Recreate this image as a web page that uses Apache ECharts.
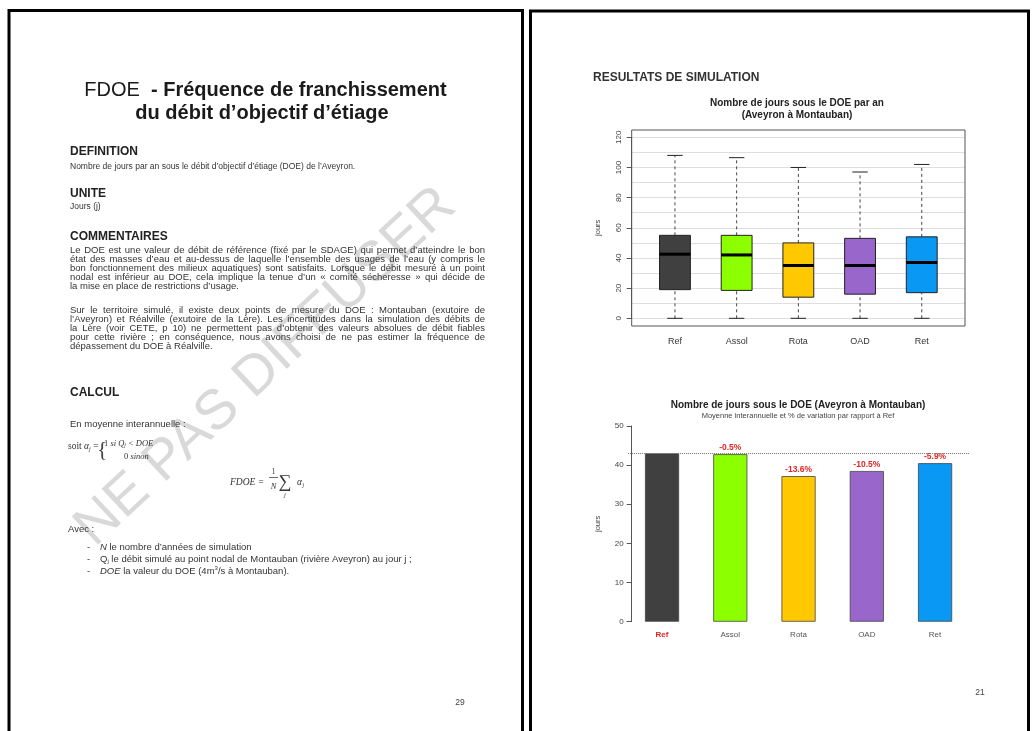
<!DOCTYPE html>
<html><head><meta charset="utf-8">
<script src="https://cdn.jsdelivr.net/npm/echarts@6/dist/echarts.min.js"></script>
<style>html,body{margin:0;padding:0;background:#fff}#c{width:1034px;height:731px}</style>
</head><body><div id="c"></div>
<script>
// ---------- data ----------
const categories = ['Ref', 'Assol', 'Rota', 'OAD', 'Ret'];
const boxMin    = [0, 0, 0, 0, 0];
const boxQ1     = [19, 18.5, 14, 16, 17];
const boxMedian = [42.5, 42, 35, 35, 37];
const boxQ3     = [55, 55, 50, 53, 54];
const boxMax    = [108, 106.5, 100, 97, 102];
const meanDays  = [43.0, 42.8, 37.2, 38.5, 40.5];
const variationLabels = ['', '-0.5%', '-13.6%', '-10.5%', '-5.9%'];
const seriesColors = ['#404040', '#8cff00', '#ffc800', '#9966cc', '#0a98f5'];

const para1 = [
  'Le DOE est une valeur de débit de référence (fixé par le SDAGE) qui permet d’atteindre le bon',
  'état des masses d’eau et au-dessus de laquelle l’ensemble des usages de l’eau (y compris le',
  'bon fonctionnement des milieux aquatiques) sont satisfaits. Lorsque le débit mesuré à un point',
  'nodal est inférieur au DOE, cela implique la tenue d’un « comité sécheresse » qui décide de',
  'la mise en place de restrictions d’usage.'
];
const para2 = [
  'Sur le territoire simulé, il existe deux points de mesure du DOE : Montauban (exutoire de',
  'l’Aveyron) et Réalville (exutoire de la Lère). Les incertitudes dans la simulation des débits de',
  'la Lère (voir CETE, p 10) ne permettent pas d’obtenir des valeurs absolues de débit fiables',
  'pour cette rivière ; en conséquence, nous avons choisi de ne pas estimer la fréquence de',
  'dépassement du DOE à Réalville.'
];

// ---------- helpers ----------
const SANS = "'Liberation Sans', Arial, sans-serif";
const SERIF = "'Liberation Serif', 'DejaVu Serif', serif";
const ctx = document.createElement('canvas').getContext('2d');
function fontStr(s){ return (s.fontStyle||'normal')+' '+(s.fontWeight||'normal')+' '+s.fontSize+'px '+(s.fontFamily||SANS); }
function tw(t, s){ ctx.font = fontStr(s); return ctx.measureText(t).width; }
function T(text, x, y, s, extra){
  return Object.assign({type:'text', x:x, y:y, z:10, silent:true,
    style:Object.assign({text:text, fill:'#2b2b2b', fontFamily:SANS, verticalAlign:'middle', align:'left'}, s)}, extra||{});
}
function justify(lines, x, y0, dy, width, s){
  const out = [];
  lines.forEach(function(ln, li){
    const y = y0 + li*dy;
    if (li === lines.length-1){ out.push(T(ln, x, y, s)); return; }
    const words = ln.split(' ');
    const ws = words.map(function(w){ return tw(w, s); });
    const sum = ws.reduce(function(a,b){return a+b;}, 0);
    const gap = (width - sum)/(words.length-1);
    let cx = x;
    words.forEach(function(w, i){ out.push(T(w, cx, y, s)); cx += ws[i] + gap; });
  });
  return out;
}
function seq(x, y, parts){
  const out = []; let cx = x;
  parts.forEach(function(p){
    const s = Object.assign({fontSize:9}, p.s);
    out.push(T(p.t, cx, y + (p.dy||0), s));
    cx += tw(p.t, s);
  });
  return out;
}

// ---------- graphic (document pages) ----------
const G = [];
// watermark
G.push({type:'text', x:266, y:367, rotation:43*Math.PI/180, z:1, silent:true,
  style:{text:'NE PAS DIFFUSER', fontSize:56, fontFamily:SANS, fill:'#d9d9d9', align:'center', verticalAlign:'middle'}});
// page frames
G.push({type:'polyline', z:20, silent:true, shape:{points:[[9,740],[9,10.5],[522.5,10.5],[522.5,740]]}, style:{stroke:'#000', lineWidth:3, fill:null}});
G.push({type:'polyline', z:20, silent:true, shape:{points:[[530.5,740],[530.5,11],[1028.5,11],[1028.5,740]]}, style:{stroke:'#000', lineWidth:3, fill:null}});

// left page title
G.push(T('{a|FDOE}{b|  - Fréquence de franchissement}', 265.5, 90, {align:'center', fill:'#1a1a1a',
  rich:{a:{fontSize:20, fontFamily:SANS, fill:'#1a1a1a'}, b:{fontSize:20, fontWeight:'bold', fontFamily:SANS, fill:'#1a1a1a'}}}));
G.push(T('du débit d’objectif d’étiage', 262, 113, {align:'center', fontSize:20, fontWeight:'bold', fill:'#1a1a1a'}));

const H = {fontSize:12, fontWeight:'bold', fill:'#222'};
G.push(T('DEFINITION', 70, 152, H));
G.push(T('Nombre de jours par an sous le débit d’objectif d’étiage (DOE) de l’Aveyron.', 70, 166.7, {fontSize:8.5, fill:'#333'}));
G.push(T('UNITE', 70, 193.3, H));
G.push(T('Jours (j)', 70, 207, {fontSize:8.5, fill:'#333'}));
G.push(T('COMMENTAIRES', 70, 237, H));
const P = {fontSize:9.5, fill:'#333'};
justify(para1, 70, 250, 9.2, 415, P).forEach(function(e){G.push(e);});
justify(para2, 70, 310, 9.2, 415, P).forEach(function(e){G.push(e);});
G.push(T('CALCUL', 70, 392.3, H));
G.push(T('En moyenne interannuelle :', 70, 424, P));

// formula: soit alpha_j = {1 si Qj < DOE ; 0 sinon}
const SR = {fontFamily:SERIF, fontSize:9.5, fill:'#333'};
const SI = {fontFamily:SERIF, fontSize:9.5, fontStyle:'italic', fill:'#333'};
seq(68, 446, [{t:'soit ', s:SR}, {t:'α', s:SI}, {t:'j', s:Object.assign({}, SI, {fontSize:6}), dy:3}, {t:' = ', s:SR}]).forEach(function(e){G.push(e);});
G.push(T('{', 97, 450, {fontFamily:SERIF, fontSize:22, fill:'#444'}));
const FI = Object.assign({}, SI, {fontSize:8.5});
seq(104, 444, [{t:'1 ', s:Object.assign({}, SR, {fontSize:8.5})}, {t:'si Q', s:FI}, {t:'j', s:Object.assign({}, FI, {fontSize:5.5}), dy:2}, {t:' < DOE', s:FI}]).forEach(function(e){G.push(e);});
seq(124, 457, [{t:'0 ', s:Object.assign({}, SR, {fontSize:8.5})}, {t:'sinon', s:FI}]).forEach(function(e){G.push(e);});
// FDOE = 1/N sum alpha_j
seq(230, 482, [{t:'FDOE = ', s:SI}]).forEach(function(e){G.push(e);});
G.push(T('1', 273.5, 472, Object.assign({}, SR, {fontSize:7.5, align:'center'})));
G.push({type:'line', z:10, silent:true, shape:{x1:269, y1:477.5, x2:278, y2:477.5}, style:{stroke:'#444', lineWidth:0.8}});
G.push(T('N', 273.5, 486.5, Object.assign({}, SI, {fontSize:8.5, align:'center'})));
G.push(T('∑', 278.5, 482, Object.assign({}, SR, {fontSize:18})));
G.push(T('j', 284, 495, Object.assign({}, SI, {fontSize:6.5})));
G.push(T('α', 297, 482, SI));
G.push(T('j', 302.5, 485, Object.assign({}, SI, {fontSize:6})));

G.push(T('Avec :', 68, 529.3, P));
const bulletY = [547.7, 559.3, 571];
bulletY.forEach(function(y){ G.push(T('-', 87, y, P)); });
const PI_ = Object.assign({}, P, {fontStyle:'italic'});
seq(100, bulletY[0], [{t:'N', s:PI_}, {t:' le nombre d’années de simulation', s:P}]).forEach(function(e){G.push(e);});
seq(100, bulletY[1], [{t:'Q', s:P}, {t:'j', s:Object.assign({}, P, {fontSize:6}), dy:2}, {t:' le débit simulé au point nodal de Montauban (rivière Aveyron) au jour j ;', s:P}]).forEach(function(e){G.push(e);});
seq(100, bulletY[2], [{t:'DOE', s:PI_}, {t:' la valeur du DOE (4m', s:P}, {t:'3', s:Object.assign({}, P, {fontSize:6}), dy:-2.5}, {t:'/s à Montauban).', s:P}]).forEach(function(e){G.push(e);});
G.push(T('29', 460, 703, {fontSize:8.5, align:'center', fill:'#444'}));

// right page texts
G.push(T('RESULTATS DE SIMULATION', 593, 78, {fontSize:12, fontWeight:'bold', fill:'#333'}));
G.push(T('Nombre de jours sous le DOE par an', 797, 103, {fontSize:10, fontWeight:'bold', fill:'#222', align:'center'}));
G.push(T('(Aveyron à Montauban)', 797, 115, {fontSize:10, fontWeight:'bold', fill:'#222', align:'center'}));
G.push({type:'rect', z:5, silent:true, shape:{x:631.7, y:130, width:333.3, height:196}, style:{stroke:'#555', lineWidth:1, fill:null}});
G.push(T('Nombre de jours sous le DOE (Aveyron à Montauban)', 798, 405, {fontSize:10, fontWeight:'bold', fill:'#222', align:'center'}));
G.push(T('Moyenne interannuelle et % de variation par rapport à Ref', 798, 416, {fontSize:7.5, fill:'#444', align:'center'}));
G.push(T('21', 980, 693, {fontSize:8.5, align:'center', fill:'#444'}));

// ---------- chart ----------
const chart = echarts.init(document.getElementById('c'), null, {renderer:'canvas'});
const boxData = categories.map(function(c, i){ return [i, boxMin[i], boxQ1[i], boxMedian[i], boxQ3[i], boxMax[i]]; });

function renderBox(params, api){
  const i = api.value(0);
  const pMin = api.coord([i, api.value(1)]);
  const pQ1  = api.coord([i, api.value(2)]);
  const pMed = api.coord([i, api.value(3)]);
  const pQ3  = api.coord([i, api.value(4)]);
  const pMax = api.coord([i, api.value(5)]);
  const band = api.size([1, 0])[0];
  const bw = band*0.5, cw = bw*0.5, cx = pMed[0];
  const dash = {stroke:'#444', lineWidth:1, lineDash:[3,3]};
  const solid = {stroke:'#222', lineWidth:1};
  return {type:'group', children:[
    {type:'line', shape:{x1:cx, y1:pQ3[1], x2:cx, y2:pMax[1]}, style:dash},
    {type:'line', shape:{x1:cx, y1:pMin[1], x2:cx, y2:pQ1[1]}, style:dash},
    {type:'line', shape:{x1:cx-cw/2, y1:pMax[1], x2:cx+cw/2, y2:pMax[1]}, style:solid},
    {type:'line', shape:{x1:cx-cw/2, y1:pMin[1], x2:cx+cw/2, y2:pMin[1]}, style:solid},
    {type:'rect', shape:{x:cx-bw/2, y:pQ3[1], width:bw, height:pQ1[1]-pQ3[1]}, style:{fill:seriesColors[params.dataIndex], stroke:'#222', lineWidth:1}},
    {type:'line', shape:{x1:cx-bw/2, y1:pMed[1], x2:cx+bw/2, y2:pMed[1]}, style:{stroke:'#000', lineWidth:3}}
  ]};
}

const option = {
  animation:false,
  backgroundColor:'#fff',
  textStyle:{fontFamily:SANS},
  grid:[
    {left:644.1, top:137.3, width:308.5, height:181},
    {left:631.7, top:137.3, width:333.3, height:181},
    {left:627.9, top:426, width:341.3, height:195.7}
  ],
  xAxis:[
    {gridIndex:0, type:'category', data:categories, axisLine:{show:false}, axisTick:{show:false},
     axisLabel:{margin:19, fontSize:9, color:'#333', fontFamily:SANS}},
    {gridIndex:1, type:'value', show:false, min:0, max:1},
    {gridIndex:2, type:'category', data:categories, axisLine:{show:false}, axisTick:{show:false},
     axisLabel:{margin:9, fontSize:8, color:'#555', fontFamily:SANS,
       formatter:function(v, i){ return i === 0 ? '{r|' + v + '}' : v; },
       rich:{r:{color:'#e02525', fontWeight:'bold', fontSize:8, fontFamily:SANS}}}}
  ],
  yAxis:[
    {gridIndex:0, type:'value', min:0, max:120, interval:20, offset:12.4,
     axisLine:{show:true, lineStyle:{color:'#555'}}, axisTick:{show:true, length:5, lineStyle:{color:'#555'}},
     axisLabel:{rotate:90, margin:9, fontSize:8, color:'#444', fontFamily:SANS}, splitLine:{show:false},
     name:'jours', nameLocation:'middle', nameGap:30, nameRotate:90, nameTextStyle:{fontSize:7.5, color:'#444', fontFamily:SANS}},
    {gridIndex:1, type:'value', min:0, max:120, interval:10, axisLine:{show:false}, axisTick:{show:false},
     axisLabel:{show:false}, splitLine:{show:true, lineStyle:{color:'#dedede', width:1}}},
    {gridIndex:2, type:'value', min:0, max:50, interval:10, offset:-3.8,
     axisLine:{show:true, lineStyle:{color:'#555'}}, axisTick:{show:true, length:5, lineStyle:{color:'#555'}},
     axisLabel:{margin:8, fontSize:8, color:'#444', fontFamily:SANS}, splitLine:{show:false},
     name:'jours', nameLocation:'middle', nameGap:30, nameRotate:90, nameTextStyle:{fontSize:7.5, color:'#444', fontFamily:SANS}}
  ],
  series:[
    {type:'custom', xAxisIndex:0, yAxisIndex:0, data:boxData, renderItem:renderBox, encode:{x:0, y:[1,2,3,4,5]}, z:3},
    {type:'bar', xAxisIndex:2, yAxisIndex:2, data:meanDays, barWidth:'50%',
     itemStyle:{color:function(p){ return seriesColors[p.dataIndex]; }, borderColor:'#444', borderWidth:0.8},
     label:{show:true, position:'top', distance:2, fontSize:8.5, fontWeight:'bold', color:'#e02525', fontFamily:SANS,
       formatter:function(p){ return variationLabels[p.dataIndex]; }},
     markLine:{silent:true, symbol:'none', label:{show:false}, lineStyle:{type:'dotted', color:'#777', width:1},
       data:[{yAxis:meanDays[0]}]}}
  ],
  graphic:{elements:G}
};
chart.setOption(option);
</script>
</body></html>
